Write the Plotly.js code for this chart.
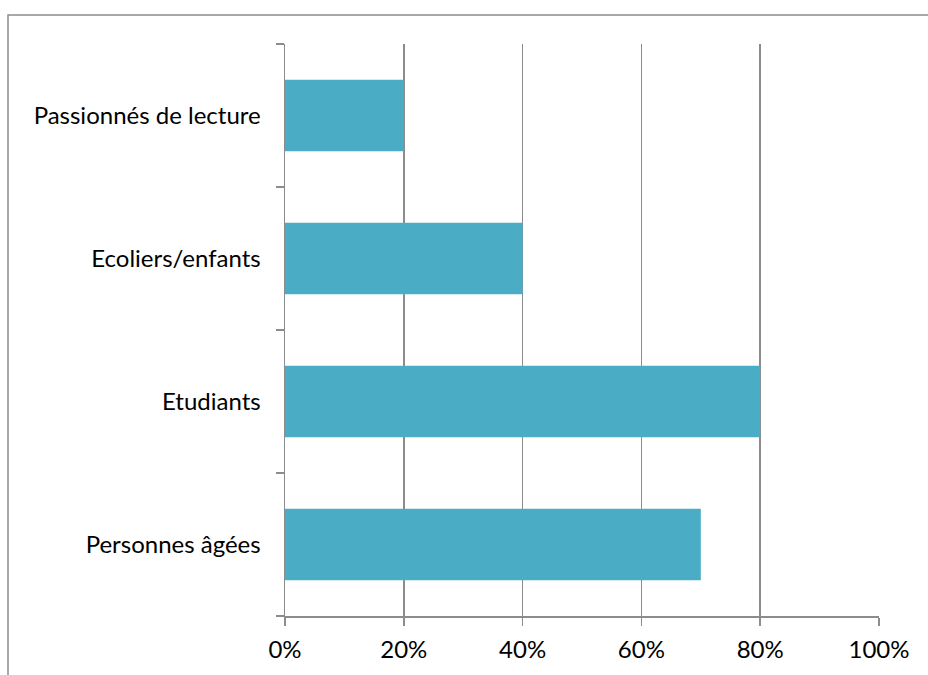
<!DOCTYPE html>
<html>
<head>
<meta charset="utf-8">
<script src="https://cdn.plot.ly/plotly-3.0.1.min.js"></script>
<style>html,body{margin:0;padding:0;background:#fff;}#chart{width:928px;height:675px;}</style>
</head>
<body>
<div id="chart"></div>
<script>
const categories = ["Personnes âgées", "Etudiants", "Ecoliers/enfants", "Passionnés de lecture"];
const values = [0.70, 0.80, 0.40, 0.20];
const xTickVals = [0, 0.2, 0.4, 0.6, 0.8, 1.0];
const xTickText = ["0%", "20%", "40%", "60%", "80%", "100%"];

const L = 285, R = 879, T = 44, B = 616, W = 928, H = 675;
const pw = R - L, ph = B - T;
const px = v => (v - L) / pw;
const py = v => (B - v) / ph;

const trace = {
  type: "bar",
  orientation: "h",
  y: categories,
  x: values,
  width: 0.5,
  marker: {color: "#4BACC6"},
  hoverinfo: "none"
};

const layout = {
  width: W, height: H,
  margin: {l: L, r: W - R, t: T, b: H - B, pad: 0},
  paper_bgcolor: "#fff",
  plot_bgcolor: "#fff",
  showlegend: false,
  font: {family: "Lato, 'Open Sans', sans-serif", size: 24, color: "#000"},
  xaxis: {
    range: [0, 1],
    tickvals: xTickVals,
    ticktext: xTickText,
    showgrid: true,
    gridcolor: "#8c8c8c",
    gridwidth: 1.5,
    zeroline: false,
    showline: true,
    linecolor: "#8c8c8c",
    linewidth: 1.5,
    ticks: "outside",
    ticklen: 8,
    tickwidth: 1.5,
    tickcolor: "#8c8c8c",
    ticklabelstandoff: 4,
    fixedrange: true
  },
  yaxis: {
    type: "category",
    categoryorder: "array",
    categoryarray: categories,
    range: [-0.5, 3.5],
    tickson: "boundaries",
    ticks: "outside",
    ticklen: 8,
    tickwidth: 1.5,
    tickcolor: "#8c8c8c",
    showgrid: false,
    showline: true,
    linecolor: "#8c8c8c",
    linewidth: 1.5,
    zeroline: false,
    ticklabelstandoff: 18,
    fixedrange: true
  },
  shapes: [{
    type: "rect", xref: "paper", yref: "paper",
    x0: px(8), x1: px(W + 20), y0: py(H + 20), y1: py(15),
    line: {color: "#8c8c8c", width: 1.5},
    fillcolor: "rgba(0,0,0,0)",
    layer: "below"
  }]
};

Plotly.newPlot("chart", [trace], layout, {displayModeBar: false, staticPlot: true});
</script>
</body>
</html>
